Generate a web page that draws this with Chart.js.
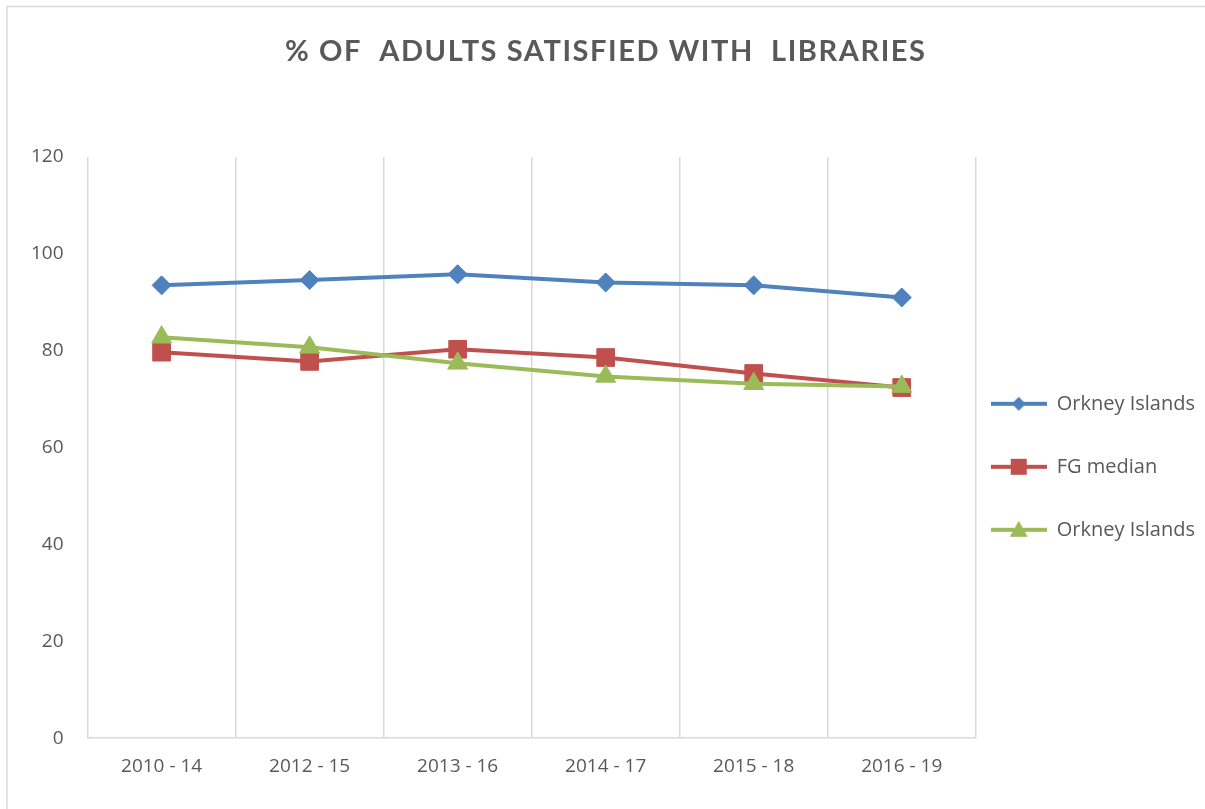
<!DOCTYPE html>
<html>
<head>
<meta charset="utf-8">
<title>% of adults satisfied with libraries</title>
<script src="https://cdn.jsdelivr.net/npm/chart.js@4/dist/chart.umd.min.js"></script>
<style>
  html, body { margin: 0; padding: 0; background: #fff; }
  #wrap { position: relative; width: 1205px; height: 809px; }
</style>
</head>
<body>
<div id="wrap"><canvas id="libChart"></canvas></div>
<script>
    const periods = ['2010 - 14', '2012 - 15', '2013 - 16', '2014 - 17', '2015 - 18', '2016 - 19'];
    const orkneyValues = [93.5, 94.6, 95.8, 94.1, 93.5, 91.0];
    const fgMedianValues = [79.7, 77.8, 80.3, 78.6, 75.3, 72.4];
    const orkneyValues2 = [82.8, 80.7, 77.4, 74.7, 73.2, 72.6];
    const seriesNames = ['Orkney Islands', 'FG median', 'Orkney Islands'];
    const yTicks = [0, 20, 40, 60, 80, 100, 120];
    const chartTitle = '% OF  ADULTS SATISFIED WITH  LIBRARIES';

    const blue = '#4f81bd';
    const red = '#c0504d';
    const green = '#9bbb59';
    const textGrey = '#595959';
    const lineGrey = '#d9d9d9';

    // little line + marker pictures for the legend
    function legendIcon(color, shape) {
        let c = document.createElement('canvas');
        c.width = 56;
        c.height = 22;
        let g = c.getContext('2d');
        g.strokeStyle = color;
        g.fillStyle = color;
        g.lineWidth = 4;
        g.beginPath();
        g.moveTo(0, 11);
        g.lineTo(56, 11);
        g.stroke();
        g.beginPath();
        if (shape === 'diamond') {
            g.moveTo(28, 4); g.lineTo(35, 11); g.lineTo(28, 18); g.lineTo(21, 11);
        } else if (shape === 'square') {
            g.rect(20, 3, 16, 16);
        } else {
            g.moveTo(28, 2); g.lineTo(37, 18); g.lineTo(19, 18);
        }
        g.closePath();
        g.fill();
        return c;
    }

    const icons = [legendIcon(blue, 'diamond'), legendIcon(red, 'square'), legendIcon(green, 'triangle')];

    // title with spaced letters, and the frame lines of the chart
    const decorPlugin = {
        id: 'decor',
        beforeDraw(chart) {
            let ctx = chart.ctx;
            ctx.save();
            ctx.strokeStyle = lineGrey;
            ctx.lineWidth = 1.5;
            ctx.beginPath();
            ctx.moveTo(7, 809);
            ctx.lineTo(7, 6.5);
            ctx.lineTo(1205, 6.5);
            ctx.stroke();
            ctx.restore();
        },
        afterDraw(chart) {
            let ctx = chart.ctx;
            ctx.save();
            ctx.font = 'bold 29px Lato';
            ctx.fillStyle = textGrey;
            ctx.textAlign = 'left';
            ctx.textBaseline = 'alphabetic';
            ctx.letterSpacing = '0px';
            let w = ctx.measureText(chartTitle).width;
            let spacing = (640 - w) / (chartTitle.length - 1);
            ctx.letterSpacing = spacing + 'px';
            ctx.fillText(chartTitle, 285, 61);
            ctx.restore();
        }
    };

    let ctxLib = document.getElementById('libChart').getContext('2d');

    let chartLib = new Chart(ctxLib, {
        type: 'line',
        data: {
            labels: periods,
            datasets: [{
                label: seriesNames[0],
                data: orkneyValues,
                borderColor: blue,
                backgroundColor: blue,
                borderWidth: 4,
                pointStyle: 'rectRot',
                pointRadius: 9.5,
                pointBorderWidth: 1,
                order: 3
            }, {
                label: seriesNames[1],
                data: fgMedianValues,
                borderColor: red,
                backgroundColor: red,
                borderWidth: 4,
                pointStyle: 'rect',
                pointRadius: 12.5,
                pointBorderWidth: 1,
                order: 2
            }, {
                label: seriesNames[2],
                data: orkneyValues2,
                borderColor: green,
                backgroundColor: green,
                borderWidth: 4,
                pointStyle: 'triangle',
                pointRadius: 11.5,
                pointBorderWidth: 1,
                order: 1
            }]
        },
        options: {
            responsive: true,
            maintainAspectRatio: false,
            animation: false,
            layout: {
                padding: { top: 157, left: 7, right: 0, bottom: 14 }
            },
            elements: {
                line: { tension: 0 }
            },
            scales: {
                x: {
                    offset: true,
                    grid: {
                        offset: true,
                        color: lineGrey,
                        lineWidth: 1.5,
                        drawTicks: false
                    },
                    border: { color: lineGrey, width: 1.5 },
                    ticks: {
                        color: textGrey,
                        font: { family: 'Open Sans', size: 19 },
                        padding: 17,
                        maxRotation: 0
                    }
                },
                y: {
                    min: 0,
                    max: 120,
                    afterBuildTicks: (axis) => {
                        axis.ticks = yTicks.map(v => ({ value: v }));
                    },
                    grid: { display: false, drawTicks: false },
                    border: { display: false },
                    ticks: {
                        color: textGrey,
                        font: { family: 'Open Sans', size: 19 },
                        padding: 24
                    }
                }
            },
            plugins: {
                legend: {
                    position: 'right',
                    align: 'center',
                    title: {
                        display: true,
                        text: ' ',
                        font: { size: 8 },
                        padding: 0
                    },
                    labels: {
                        usePointStyle: true,
                        pointStyleWidth: 56,
                        padding: 15,
                        color: textGrey,
                        font: { family: 'Open Sans', size: 20 },
                        generateLabels: (chart) => chart.data.datasets.map((ds, i) => ({
                            text: [ds.label, ''],
                            fillStyle: ds.borderColor,
                            strokeStyle: ds.borderColor,
                            lineWidth: 0,
                            pointStyle: icons[i],
                            fontColor: textGrey,
                            hidden: false,
                            datasetIndex: i
                        }))
                    }
                },
                tooltip: { enabled: false }
            }
        },
        plugins: [decorPlugin]
    });
</script>
</body>
</html>
